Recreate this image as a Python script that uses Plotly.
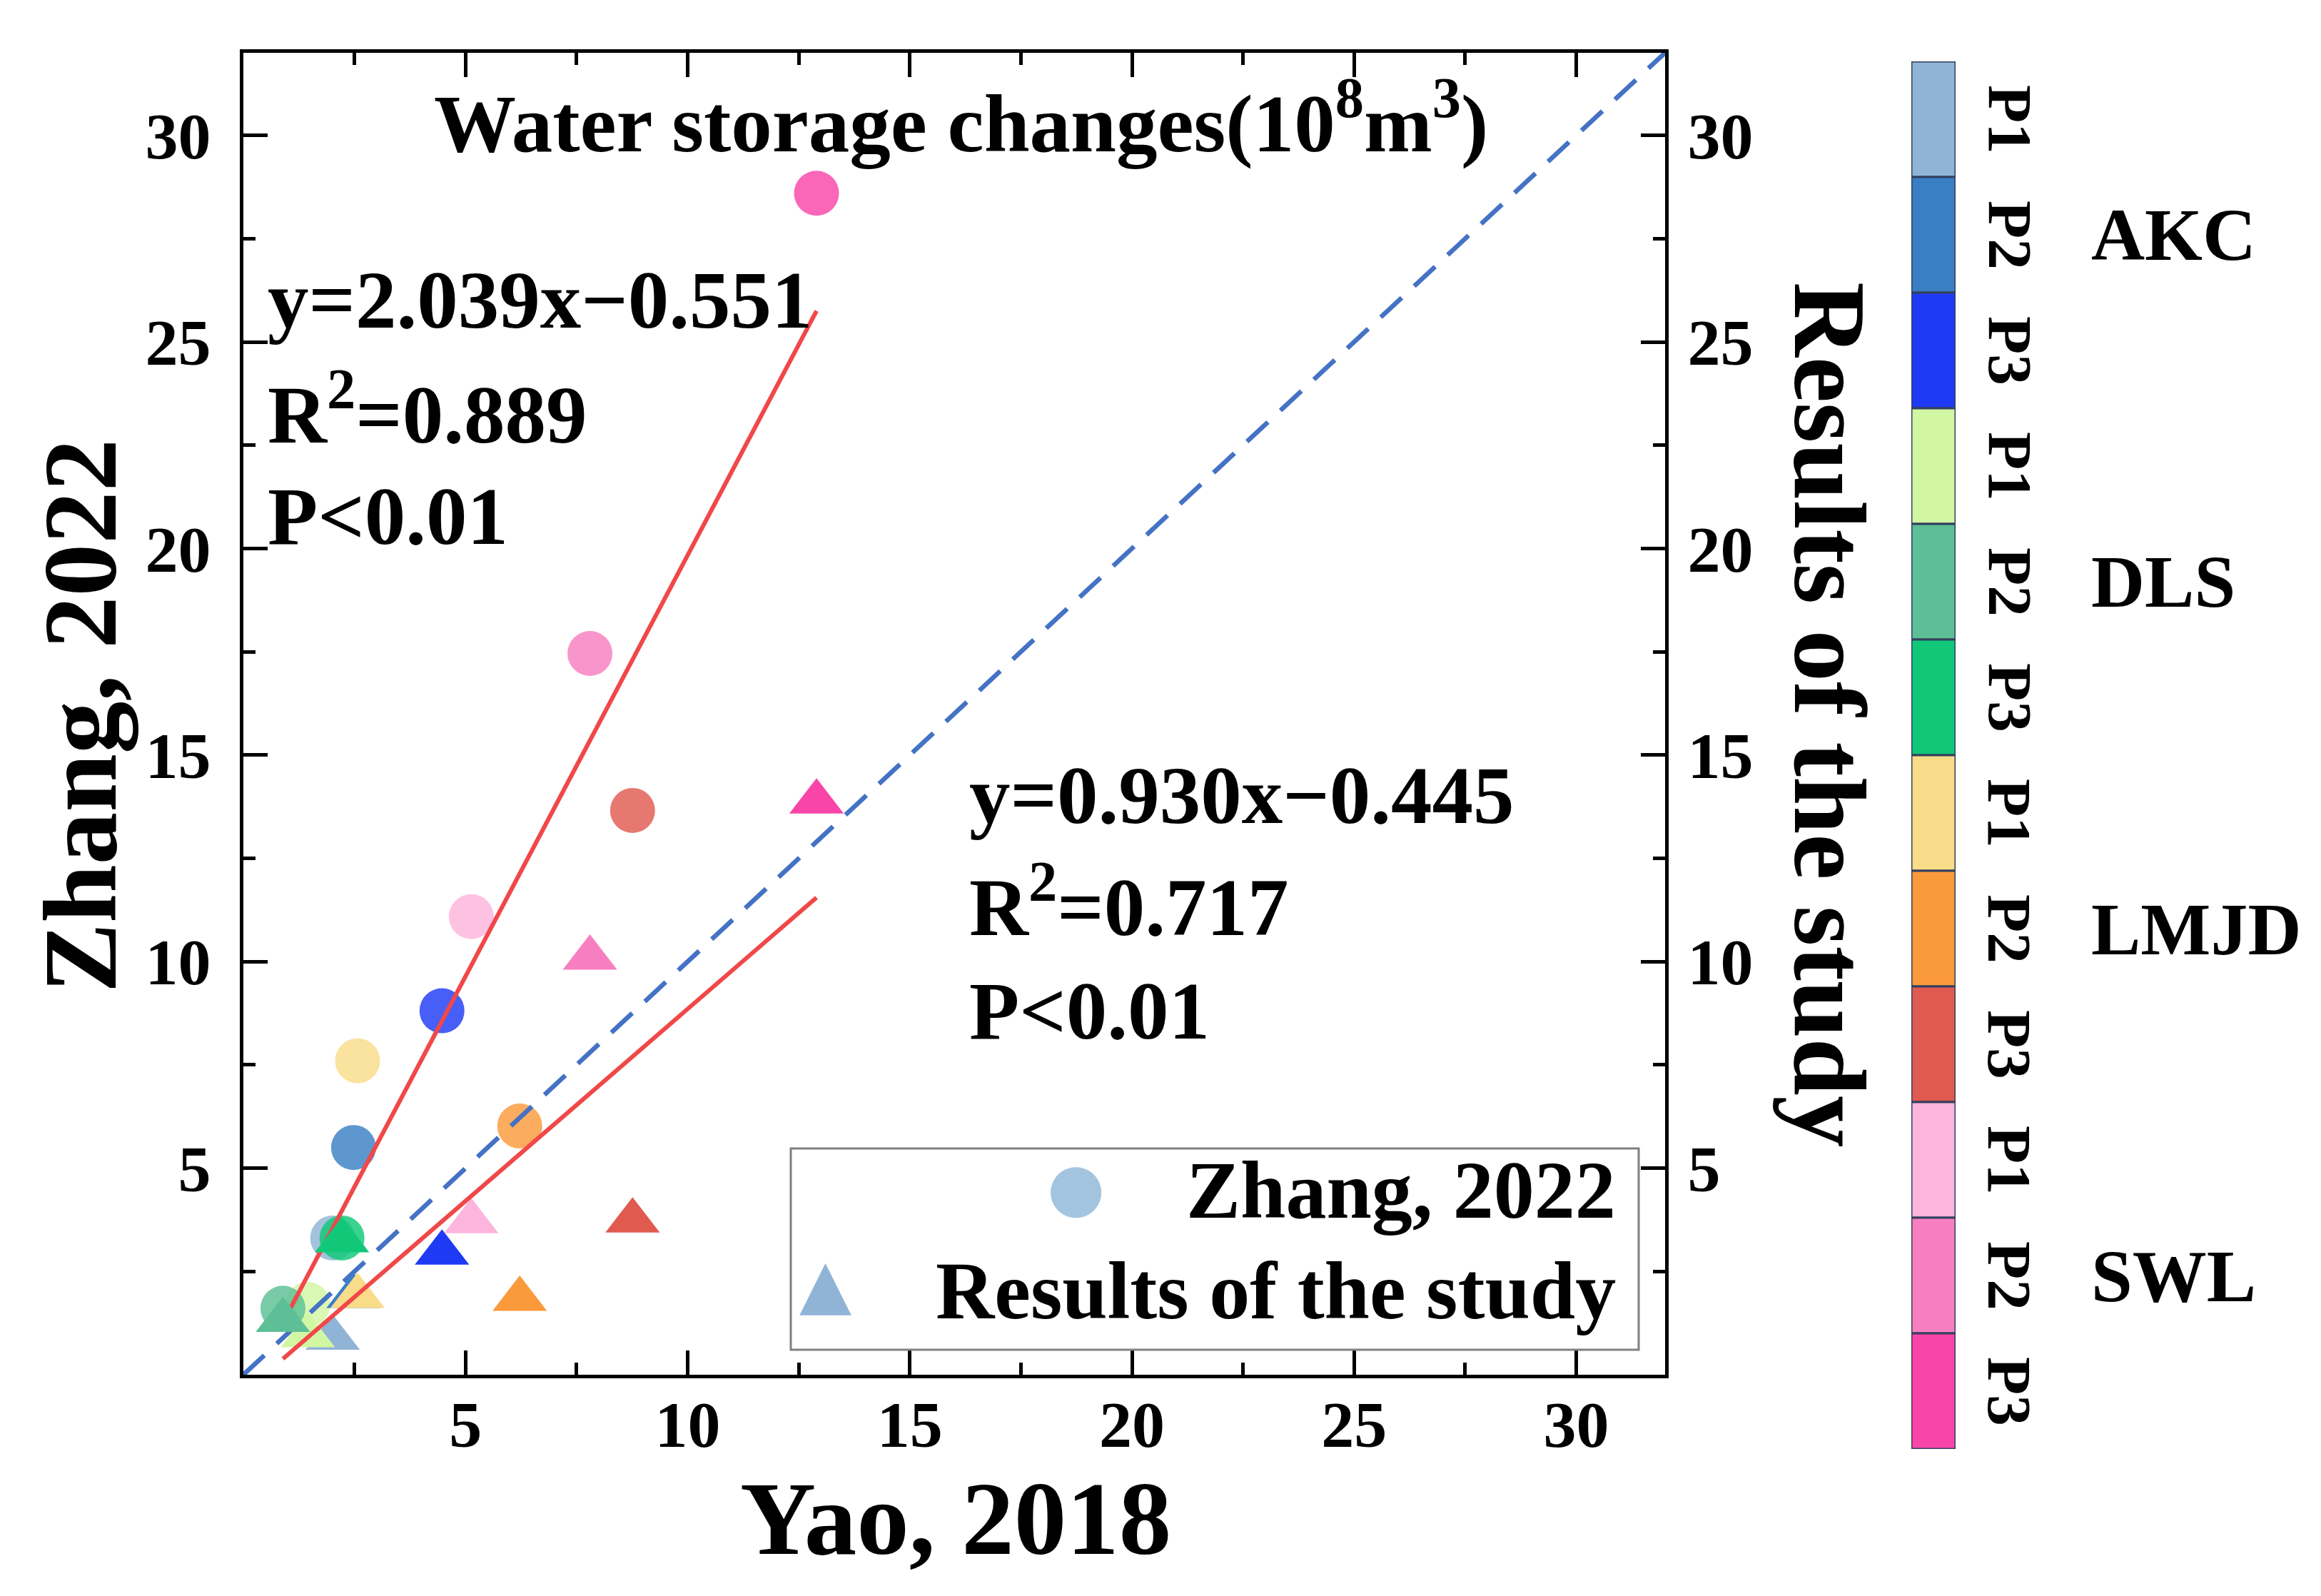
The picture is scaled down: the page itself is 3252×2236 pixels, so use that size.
import plotly.graph_objects as go

W, H = 3252, 2236


def px(x):
    return x / W


def py(y):
    return 1 - y / H


# ---------------- data ----------------
regions = ["AKC", "DLS", "LMJD", "SWL"]
periods = ["P1", "P2", "P3"]
categories = [f"{r} {p}" for r in regions for p in periods]
colors = ["#8fb4d6", "#3a7fc4", "#1f3af5",
          "#d2f7a4", "#5cbf95", "#10c878",
          "#f9dc8a", "#fb9a3a", "#e05a50",
          "#fcb5dc", "#f77fc1", "#f944a8"]
yao_2018 = [2.01, 2.48, 4.47, 1.45, 0.89, 2.22, 2.57, 6.22, 8.76, 5.13, 7.80, 12.90]
zhang_2022 = [3.31, 5.50, 8.81, 1.70, 1.61, 3.31, 7.60, 6.02, 13.66, 11.09, 17.46, 28.60]
study = [0.89, 1.90, 2.95, 0.95, 1.32, 3.25, 1.90, 1.83, 3.73, 3.71, 10.09, 13.87]
fit_slope = [2.039, 0.930]
fit_intercept = [-0.551, -0.445]
fit_r2 = [0.889, 0.717]
fit_p = ["0.01", "0.01"]
axis_ticks = [5, 10, 15, 20, 25, 30]
axis_range = [0, 32]

FONT = "Liberation Serif"
BLACK = "black"

fig = go.Figure()

# scatter points
fig.add_trace(go.Scatter(
    x=yao_2018, y=zhang_2022, mode="markers", name="Zhang, 2022",
    showlegend=False,
    marker=dict(symbol="circle", size=63, color=colors, opacity=0.82,
                line=dict(width=0)),
    xaxis="x", yaxis="y"))
fig.add_trace(go.Scatter(
    x=yao_2018, y=study, mode="markers", name="Results of the study",
    showlegend=False,
    marker=dict(symbol="triangle-up", size=66, color=colors, opacity=1.0,
                line=dict(width=0)),
    xaxis="x", yaxis="y2"))

# 1:1 line
fig.add_trace(go.Scatter(
    x=axis_range, y=axis_range, mode="lines", showlegend=False,
    line=dict(color="#4472c4", width=6.5, dash="40px,24px"),
    xaxis="x", yaxis="y"))

# regression lines
xmin, xmax = min(yao_2018), max(yao_2018)
for k, yax in enumerate(["y", "y2"]):
    fig.add_trace(go.Scatter(
        x=[xmin, xmax],
        y=[fit_slope[k] * xmin + fit_intercept[k], fit_slope[k] * xmax + fit_intercept[k]],
        mode="lines", showlegend=False,
        line=dict(color="#f04848", width=6),
        xaxis="x", yaxis=yax))

# category colour bar
fig.add_trace(go.Bar(
    x=[0] * len(categories), y=[1] * len(categories),
    base=list(range(len(categories))), width=1,
    marker=dict(color=colors, line=dict(color="#34405e", width=3)),
    showlegend=False, xaxis="x2", yaxis="y3"))

tickfont = dict(family=FONT, size=92, color=BLACK, weight="bold")
common_axis = dict(
    range=axis_range, tickmode="array", tickvals=axis_ticks,
    ticks="inside", ticklen=34, tickwidth=5, tickcolor=BLACK,
    showline=True, linewidth=5, linecolor=BLACK,
    showgrid=False, zeroline=False, tickfont=tickfont,
    minor=dict(dtick=2.5, tick0=0, ticks="inside", ticklen=17,
               tickwidth=5, tickcolor=BLACK, showgrid=False),
)

fig.update_layout(
    width=W, height=H, template="none",
    paper_bgcolor="white", plot_bgcolor="white",
    margin=dict(l=0, r=0, t=0, b=0),
    showlegend=False, barmode="overlay",
    xaxis=dict(domain=[px(333), px(2325)], anchor="y", mirror="ticks",
               ticklabelstandoff=-14, **common_axis),
    yaxis=dict(domain=[py(1918), py(66)], anchor="x",
               ticklabelstandoff=22, **common_axis),
    yaxis2=dict(overlaying="y", side="right", anchor="x",
                ticklabelstandoff=8, **common_axis),
    xaxis2=dict(domain=[px(2670), px(2732)], anchor="y3", range=[-0.5, 0.5],
                showticklabels=False, ticks="", showline=False,
                showgrid=False, zeroline=False),
    yaxis3=dict(domain=[py(2022), py(78)], anchor="x2",
                range=[len(categories), 0],
                showticklabels=False, ticks="", showline=False,
                showgrid=False, zeroline=False),
)

ann = []


def add_text(text, x, y, size, xanchor="left", yanchor="bottom", angle=0,
             xref="paper", yref="paper", color=BLACK, family=FONT, bold=True):
    ann.append(dict(
        text=text, x=x, y=y, xref=xref, yref=yref, showarrow=False,
        xanchor=xanchor, yanchor=yanchor, textangle=angle, borderpad=0,
        font=dict(family=family, size=size, color=color,
                  weight="bold" if bold else "normal")))


# titles
add_text("Water storage changes(10<sup>8</sup>m<sup>3</sup>)", px(1338), py(230), 115,
         xanchor="center")
add_text("Yao, 2018", px(1331), py(2202), 147, xanchor="center")
add_text("Zhang, 2022", px(104), py(995), 147, xanchor="center", yanchor="middle", angle=-90)
add_text("Results of the study", px(2556), py(993), 145, xanchor="center",
         yanchor="middle", angle=90)

# regression statistics
blocks = [(366, [452, 613, 755]), (1349, [1146, 1303, 1448])]
for k, (x0, bases) in enumerate(blocks):
    lines = [f"y={fit_slope[k]:.3f}x\u2212{abs(fit_intercept[k]):.3f}",
             f"R<sup>2</sup>={fit_r2[k]:.3f}",
             f"P&lt;{fit_p[k]}"]
    for t, b in zip(lines, bases):
        add_text(t, px(x0), py(b + 25), 115)

# legend
add_text("Zhang, 2022", px(2257), py(1724), 114, xanchor="right")
add_text("Results of the study", px(2257), py(1865), 114, xanchor="right")
add_text("\u25CF", px(1499), py(1655), 93, xanchor="center", yanchor="middle",
         color="#a3c4df", family="DejaVu Sans")
add_text("\u25B2", px(1148), py(1790), 95, xanchor="center", yanchor="middle",
         color="#8fb4d6", family="DejaVu Sans")

# colour bar labels
for i, cat in enumerate(categories):
    add_text(cat.split()[1], px(2808), i + 0.5, 87, xanchor="center",
             yanchor="middle", angle=90, yref="y3")
for g, reg in enumerate(regions):
    add_text(reg, px(2921), g * 3 + 1.5, 104, xanchor="left", yanchor="middle",
             yref="y3")

fig.update_layout(annotations=ann)

# legend frame
fig.add_shape(type="rect", xref="paper", yref="paper",
              x0=px(1100), x1=px(2288), y0=py(1883), y1=py(1601),
              line=dict(color="#808080", width=3), fillcolor="rgba(0,0,0,0)")

fig.write_html("out.html")
